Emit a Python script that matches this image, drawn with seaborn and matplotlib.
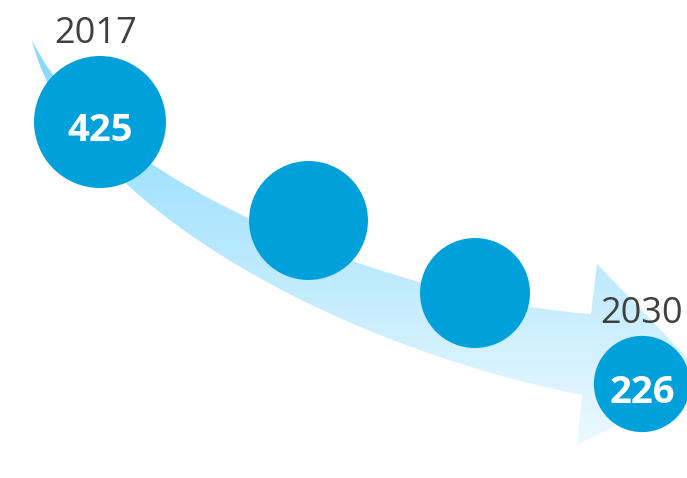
import numpy as np
import pandas as pd
import matplotlib
matplotlib.use("Agg")
import matplotlib.pyplot as plt
import seaborn as sns
from matplotlib.path import Path
from matplotlib.patches import PathPatch
from matplotlib.colors import LinearSegmentedColormap

# ---- data ----
years = ["2017", "", "", "2030"]
values = [425, 345, 295, 226]
show_value = [True, False, False, True]

# ---- layout (pixel coordinates) ----
W, H = 687, 478
cx = [100, 308.5, 475, 642]
cy = [122, 220.5, 293, 384]
R_MAX = 66  # radius of the largest circle in px

sns.set_style("white")
plt.rcParams['font.family'] = ['Open Sans', 'DejaVu Sans']

fig = plt.figure(figsize=(6.87, 4.78), dpi=100)
ax = fig.add_axes([0, 0, 1, 1])


def bez(p0, p1, p2, p3, n=120):
    t = np.linspace(0, 1, n)[:, None]
    p0, p1, p2, p3 = map(np.asarray, (p0, p1, p2, p3))
    return ((1 - t) ** 3) * p0 + 3 * ((1 - t) ** 2) * t * p1 + 3 * (1 - t) * t ** 2 * p2 + t ** 3 * p3


upper = bez((32, 40), (100, 185), (400, 300), (591, 314))
lower = bez((32, 40), (70, 200), (330, 345), (582, 395))
head = np.array([(597, 264), (708, 379), (577, 445)])
verts = np.vstack([upper, head, lower[::-1]])
patch = PathPatch(Path(verts), facecolor='none', edgecolor='none')
ax.add_patch(patch)

cmap = LinearSegmentedColormap.from_list('g', ['#84d8fd', '#b6e8fd', '#eef9ff'])
grad = np.linspace(0, 1, 256).reshape(-1, 1)
im = ax.imshow(grad, extent=[0, W, 450, 35], cmap=cmap, aspect='auto', zorder=1,
               interpolation='bilinear')
im.set_clip_path(patch)

# ---- circles (area proportional to value) ----
df = pd.DataFrame({"x": cx, "y": cy, "value": values})
vmin, vmax = min(values), max(values)
smax = (2 * R_MAX * 72 / 100) ** 2
sns.scatterplot(data=df, x="x", y="y", size="value",
                sizes=(smax * vmin / vmax, smax), size_norm=(vmin, vmax),
                color="#00a0da", linewidth=0, legend=False, ax=ax, zorder=3)

for i, v in enumerate(values):
    r = R_MAX * np.sqrt(v / vmax)
    if years[i]:
        ax.text(cx[i] - (4 if i == 0 else 0), cy[i] - r - 13, years[i], ha='center',
                va='baseline', fontsize=26, color='#404040', zorder=4)
    if show_value[i]:
        ax.text(cx[i], cy[i] + 19, str(v), ha='center', va='baseline',
                fontsize=27.5, fontweight='bold', color='white', zorder=4)

ax.set_xlim(0, W)
ax.set_ylim(H, 0)
ax.axis('off')
fig.savefig("out.png", dpi=100)
